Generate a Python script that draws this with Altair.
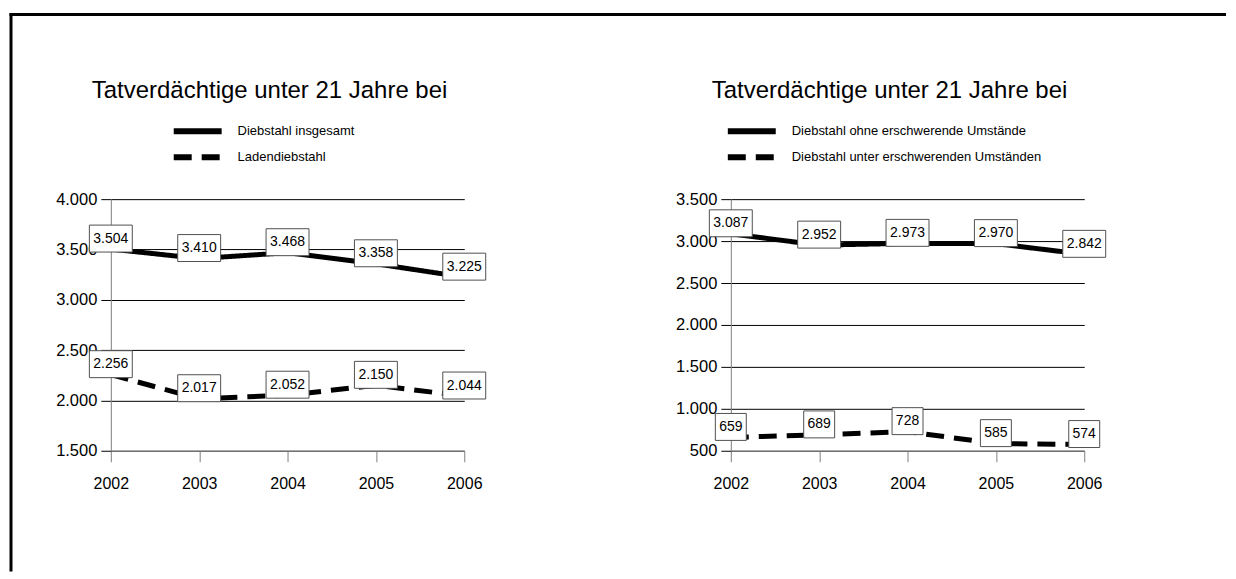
import altair as alt
import pandas as pd

# ---------------- data ----------------
years = [2002, 2003, 2004, 2005, 2006]

left_series = ["Diebstahl insgesamt", "Ladendiebstahl"]
left_total = [3504, 3410, 3468, 3358, 3225]
left_shop = [2256, 2017, 2052, 2150, 2044]
left_ticks = [1500, 2000, 2500, 3000, 3500, 4000]

right_series = ["Diebstahl ohne erschwerende Umstände",
                "Diebstahl unter erschwerenden Umständen"]
right_simple = [3087, 2952, 2973, 2970, 2842]
right_severe = [659, 689, 728, 585, 574]
right_ticks = [500, 1000, 1500, 2000, 2500, 3000, 3500]

title_text = "Tatverdächtige unter 21 Jahre bei"

FONT = "Liberation Sans"
W, H = 354, 252
GERMAN = "replace(format(datum.value, ',.0f'), ',', '.')"


def panel(series_names, vals_a, vals_b, ticks, legend_x, half_widths):
    df = pd.DataFrame({
        "year": years + years,
        "value": vals_a + vals_b,
        "series": [series_names[0]] * len(years) + [series_names[1]] * len(years),
    })
    base = alt.Chart(df)
    x = alt.X("year:Q",
              scale=alt.Scale(domain=[years[0], years[-1]], nice=False, zero=False),
              axis=alt.Axis(values=years, format="d", title=None, grid=False,
                            tickSize=11, tickColor="#808080", domainColor="#808080",
                            labelFontSize=16, labelPadding=14, labelColor="black",
                            labelFont=FONT, labelFlush=False, labelOverlap=False))
    y = alt.Y("value:Q",
              scale=alt.Scale(domain=[ticks[0], ticks[-1]], nice=False, zero=False),
              axis=alt.Axis(values=ticks, title=None, grid=True, gridColor="black",
                            gridOpacity=1, gridWidth=1, tickSize=10, tickColor="black",
                            domainColor="#808080", labelFontSize=16.5, labelPadding=4,
                            labelFont=FONT, labelColor="black", labelExpr=GERMAN,
                            labelOverlap=False))
    lines = base.mark_line(color="black", strokeWidth=5).encode(
        x=x, y=y,
        strokeDash=alt.StrokeDash(
            "series:N",
            scale=alt.Scale(domain=series_names, range=[[1, 0], [18, 10]]),
            legend=alt.Legend(title=None, orient="none", legendX=legend_x, legendY=-79,
                              direction="vertical", symbolType="M-3,0L3,0",
                              symbolSize=256, symbolStrokeWidth=6,
                              symbolStrokeColor="black", labelFontSize=13,
                              labelFont=FONT, labelColor="black", labelOffset=29,
                              rowPadding=2, padding=0, labelLimit=500)))
    layers = [lines]
    for name, hw in zip(series_names, half_widths):
        layers.append(
            base.transform_filter(alt.datum.series == name)
            .mark_rect(fill="white", stroke="#505050", strokeWidth=1,
                       xOffset=-hw, x2Offset=hw, yOffset=-24, y2Offset=3)
            .encode(x=x, x2=alt.X2("year:Q"), y=y, y2=alt.Y2("value:Q")))
    layers.append(
        base.transform_calculate(label="replace(format(datum.value, ',.0f'), ',', '.')")
        .mark_text(fontSize=14, font=FONT, color="black", dy=-10.5, baseline="middle",
                   align="center")
        .encode(x=x, y=y, text="label:N"))
    return alt.layer(*layers).properties(
        width=W, height=H,
        title=alt.TitleParams(title_text, fontSize=24, font=FONT, fontWeight="normal",
                              color="black", anchor="middle", dx=-18, dy=2, offset=0,
                              baseline="alphabetic"))


left = panel(left_series, left_total, left_shop, left_ticks, 76, [21.5, 21.5])
right = panel(right_series, right_simple, right_severe, right_ticks, 10, [21.5, 15.5])

# decorative outer frame (top and left border of the picture)
fdf = pd.DataFrame({"k": [0]})
frame_top = alt.Chart(fdf).mark_rule(color="black", strokeWidth=3).encode(
    x=alt.value(-101.5), x2=alt.value(1117), y=alt.value(-195))
frame_left = alt.Chart(fdf).mark_rule(color="black", strokeWidth=3).encode(
    x=alt.value(-100), y=alt.value(-196.5), y2=alt.value(363))
frame = alt.layer(frame_top, frame_left).properties(width=1, height=1)

panels = alt.hconcat(left, right, spacing=267, bounds="flush").resolve_scale(
    strokeDash="independent")

chart = alt.vconcat(panels, frame, spacing=10, bounds="flush").properties(
    padding={"left": 0, "top": 3, "right": 0, "bottom": 0}
).configure_view(stroke=None)

chart.save("out.html", embed_options={"renderer": "svg", "actions": False})
